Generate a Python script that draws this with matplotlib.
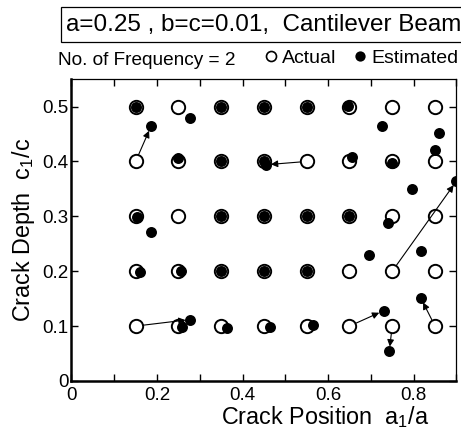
import matplotlib.pyplot as plt
import numpy as np
from matplotlib.lines import Line2D
from matplotlib.patches import Rectangle

plt.rcParams['font.family'] = ['Liberation Sans', 'DejaVu Sans']
plt.rcParams['mathtext.default'] = 'regular'

# actual crack grid
positions = [0.15, 0.25, 0.35, 0.45, 0.55, 0.65, 0.75, 0.85]
depths = [0.1, 0.2, 0.3, 0.4, 0.5]

# estimated crack (rows = depth, cols = position)
est_pos = [
    [0.278, 0.258, 0.364, 0.464, 0.565, 0.730, 0.743, 0.817],
    [0.160, 0.255, 0.350, 0.450, 0.550, 0.696, 0.900, 0.818],
    [0.154, 0.187, 0.350, 0.450, 0.550, 0.650, 0.740, 0.796],
    [0.186, 0.250, 0.350, 0.450, 0.455, 0.657, 0.750, 0.849],
    [0.150, 0.277, 0.350, 0.450, 0.550, 0.647, 0.727, 0.859],
]
est_dep = [
    [0.112, 0.099, 0.097, 0.099, 0.102, 0.128, 0.054, 0.151],
    [0.199, 0.200, 0.200, 0.200, 0.200, 0.229, 0.364, 0.236],
    [0.299, 0.271, 0.300, 0.300, 0.300, 0.300, 0.288, 0.350],
    [0.464, 0.406, 0.400, 0.400, 0.394, 0.409, 0.397, 0.421],
    [0.500, 0.480, 0.500, 0.500, 0.500, 0.501, 0.464, 0.452],
]
# 1 = arrow drawn from actual to estimated
arrow = [
    [1, 0, 0, 0, 0, 1, 1, 1],
    [0, 0, 0, 0, 0, 0, 1, 0],
    [0, 0, 0, 0, 0, 0, 0, 0],
    [1, 0, 0, 0, 1, 0, 0, 0],
    [0, 0, 0, 0, 0, 0, 0, 0],
]

act_x, act_y = np.meshgrid(positions, depths)
ex = np.array(est_pos)
ey = np.array(est_dep)

fig = plt.figure(figsize=(4.61, 4.30), dpi=100)
ax = fig.add_axes([0.155, 0.114, 0.835, 0.702])

ax.plot(ex.ravel(), ey.ravel(), 'o', mfc='k', mec='none', ms=7.9, ls='none', zorder=2)
ax.plot(act_x.ravel(), act_y.ravel(), 'o', mfc='none', mec='k', ms=9.6, mew=1.4, ls='none', zorder=3)

for i in range(len(depths)):
    for j in range(len(positions)):
        if arrow[i][j]:
            ax.annotate('', xy=(ex[i, j], ey[i, j]), xytext=(positions[j], depths[i]),
                        arrowprops=dict(arrowstyle='-|>', color='k', lw=0.8,
                                        shrinkA=5, shrinkB=3.5, mutation_scale=10),
                        zorder=4)

ax.set_xlim(0, 0.9)
ax.set_ylim(0, 0.55)
ax.set_xticks(np.arange(0, 0.91, 0.1))
ax.set_xticklabels(['0', '', '0.2', '', '0.4', '', '0.6', '', '0.8', ''])
ax.set_yticks([0, 0.1, 0.2, 0.3, 0.4, 0.5])
ax.set_yticklabels(['0', '0.1', '0.2', '0.3', '0.4', '0.5'])
ax.tick_params(direction='in', top=True, right=True, length=5, width=1, labelsize=13.5)
ax.tick_params(axis='x', pad=4)
ax.tick_params(axis='y', pad=2)
ax.spines['left'].set_linewidth(1.8)
ax.spines['bottom'].set_linewidth(1.8)
ax.spines['top'].set_linewidth(0.9)
ax.spines['right'].set_linewidth(0.9)

ax.set_xlabel('Crack Position  a$_1$/a', fontsize=16.8)
ax.xaxis.set_label_coords(0.66, -0.078)
ax.set_ylabel('Crack Depth  c$_1$/c', fontsize=16.8)
ax.yaxis.set_label_coords(-0.09, 0.5)

# title box runs off the right edge, as in the original
fig.patches.append(Rectangle((0.132, 0.902), 0.9, 0.082, transform=fig.transFigure,
                             fc='white', ec='k', lw=0.9))
fig.text(0.573, 0.942, 'a=0.25 , b=c=0.01,  Cantilever Beam', fontsize=17.5,
         ha='center', va='center')
fig.text(0.126, 0.86, 'No. of Frequency = 2', fontsize=13.7, ha='left', va='center')

handles = [
    Line2D([], [], marker='o', ls='none', mfc='none', mec='k', ms=7.2, mew=1.2, label='Actual'),
    Line2D([], [], marker='o', ls='none', mfc='k', mec='none', ms=7.4, label='Estimated'),
]
ax.legend(handles=handles, ncol=2, loc='center right', bbox_to_anchor=(1.0065, 1.07),
          frameon=False, fontsize=14, handlelength=0.6, handletextpad=0.3,
          columnspacing=0.9, borderaxespad=0, borderpad=0)

fig.savefig('out.png', dpi=100)
